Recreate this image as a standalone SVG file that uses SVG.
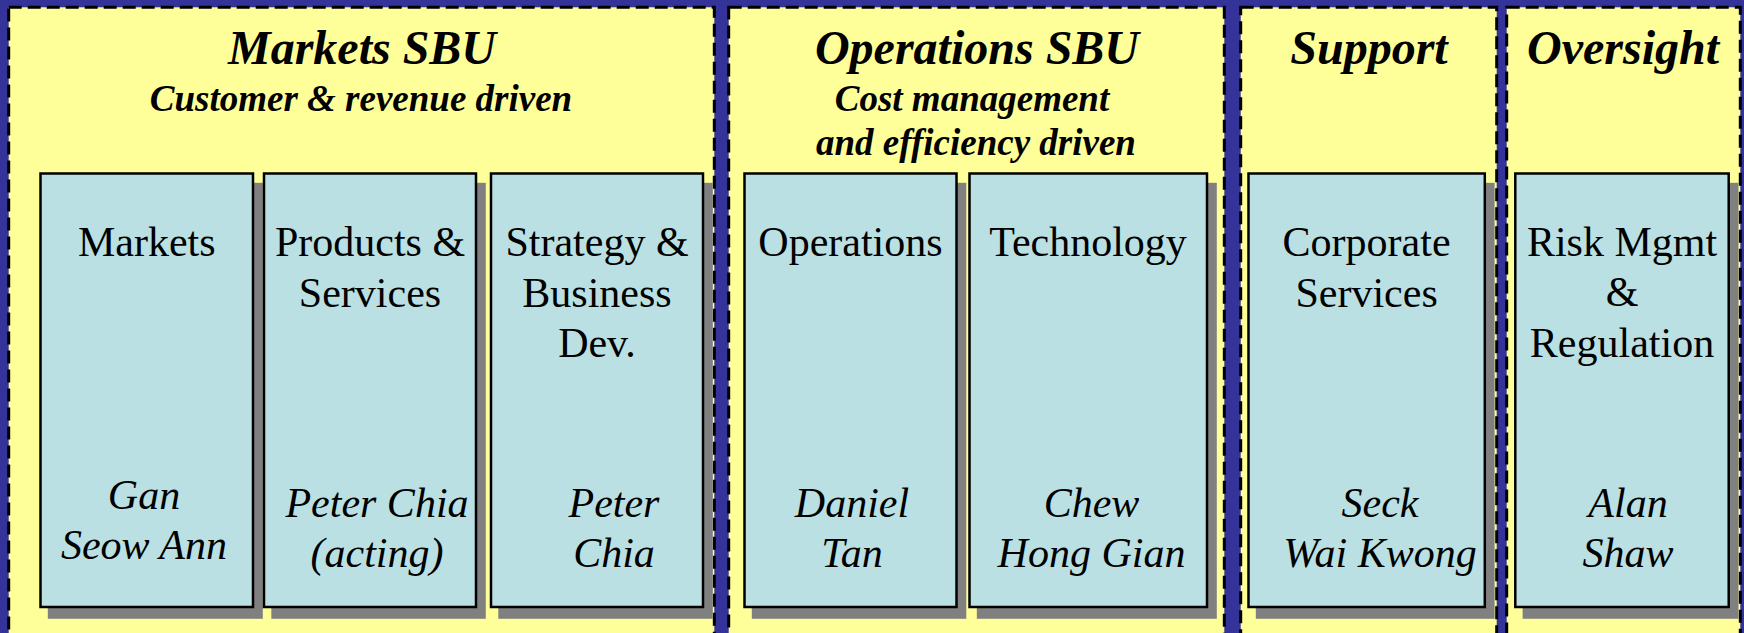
<svg xmlns="http://www.w3.org/2000/svg" width="1744" height="633" viewBox="0 0 1744 633">
  <style>
    .panel { fill: #FFFF99; stroke: #000000; stroke-width: 3; stroke-dasharray: 13 6; }
    .shadow { fill: #808080; }
    .box { fill: #BAE0E3; stroke: #000000; stroke-width: 2.5; }
    .title { font-family: "Liberation Serif", "Times New Roman", serif; font-weight: bold; font-style: italic; font-size: 48px; fill: #000; text-anchor: middle; }
    .sub { font-family: "Liberation Serif", "Times New Roman", serif; font-weight: bold; font-style: italic; font-size: 37px; fill: #000; text-anchor: middle; }
    .unit { font-family: "Liberation Serif", "Times New Roman", serif; font-size: 42px; fill: #000; text-anchor: middle; }
    .head { font-family: "Liberation Serif", "Times New Roman", serif; font-style: italic; font-size: 42px; fill: #000; text-anchor: middle; }
  </style>

  <!-- backdrop -->
  <rect x="0" y="0" width="1744" height="633" fill="#333399"/>

  <!-- business groupings -->
  <g id="markets-sbu">
    <rect class="panel" x="8.7" y="7.3" width="705.6" height="660"/>
    <text class="title" x="362" y="64">Markets SBU</text>
    <text class="sub" x="361" y="111">Customer &amp; revenue driven</text>
  </g>
  <g id="operations-sbu">
    <rect class="panel" x="728.7" y="7.3" width="495.6" height="660"/>
    <text class="title" x="977" y="64">Operations SBU</text>
    <text class="sub" x="972" y="111">Cost management</text>
    <text class="sub" x="976" y="155">and efficiency driven</text>
  </g>
  <g id="support">
    <rect class="panel" x="1240.7" y="7.3" width="256" height="660"/>
    <text class="title" x="1369" y="64">Support</text>
  </g>
  <g id="oversight">
    <rect class="panel" x="1506.7" y="7.3" width="233.6" height="660"/>
    <text class="title" x="1623" y="64">Oversight</text>
  </g>

  <!-- units -->
  <g id="unit-markets">
    <rect class="shadow" x="47.8" y="182.8" width="215" height="436"/>
    <rect class="box" x="40.5" y="173.5" width="212.5" height="433.5"/>
    <text class="unit" x="146.8" y="256">Markets</text>
    <text class="head" x="144" y="509">Gan</text>
    <text class="head" x="144" y="559">Seow Ann</text>
  </g>
  <g id="unit-products">
    <rect class="shadow" x="271.3" y="182.8" width="214.5" height="436"/>
    <rect class="box" x="264" y="173.5" width="212" height="433.5"/>
    <text class="unit" x="370" y="256">Products &amp;</text>
    <text class="unit" x="370" y="307">Services</text>
    <text class="head" x="377" y="517">Peter Chia</text>
    <text class="head" x="377" y="567">(acting)</text>
  </g>
  <g id="unit-strategy">
    <rect class="shadow" x="498.3" y="182.8" width="214.5" height="436"/>
    <rect class="box" x="491" y="173.5" width="212" height="433.5"/>
    <text class="unit" x="597" y="256">Strategy &amp;</text>
    <text class="unit" x="597" y="307">Business</text>
    <text class="unit" x="597" y="357">Dev.</text>
    <text class="head" x="614" y="517">Peter</text>
    <text class="head" x="614" y="567">Chia</text>
  </g>
  <g id="unit-operations">
    <rect class="shadow" x="751.8" y="182.8" width="214.5" height="436"/>
    <rect class="box" x="744.5" y="173.5" width="212" height="433.5"/>
    <text class="unit" x="850.5" y="256">Operations</text>
    <text class="head" x="852" y="517">Daniel</text>
    <text class="head" x="852" y="567">Tan</text>
  </g>
  <g id="unit-technology">
    <rect class="shadow" x="976.8" y="182.8" width="240" height="436"/>
    <rect class="box" x="969.5" y="173.5" width="237.5" height="433.5"/>
    <text class="unit" x="1088" y="256">Technology</text>
    <text class="head" x="1091.5" y="517">Chew</text>
    <text class="head" x="1091.5" y="567">Hong Gian</text>
  </g>
  <g id="unit-corporate">
    <rect class="shadow" x="1255.8" y="182.8" width="238.8" height="436"/>
    <rect class="box" x="1248.5" y="173.5" width="236.3" height="433.5"/>
    <text class="unit" x="1366.6" y="256">Corporate</text>
    <text class="unit" x="1366.6" y="307">Services</text>
    <text class="head" x="1380" y="517">Seck</text>
    <text class="head" x="1380" y="567">Wai Kwong</text>
  </g>
  <g id="unit-risk">
    <rect class="shadow" x="1522.6" y="182.8" width="215.9" height="436"/>
    <rect class="box" x="1515.3" y="173.5" width="213.4" height="433.5"/>
    <text class="unit" x="1622" y="256">Risk Mgmt</text>
    <text class="unit" x="1622" y="306">&amp;</text>
    <text class="unit" x="1622" y="357">Regulation</text>
    <text class="head" x="1628" y="517">Alan</text>
    <text class="head" x="1628" y="567">Shaw</text>
  </g>

  <!-- no connectors in this chart -->
  <g id="connectors"/>
</svg>
